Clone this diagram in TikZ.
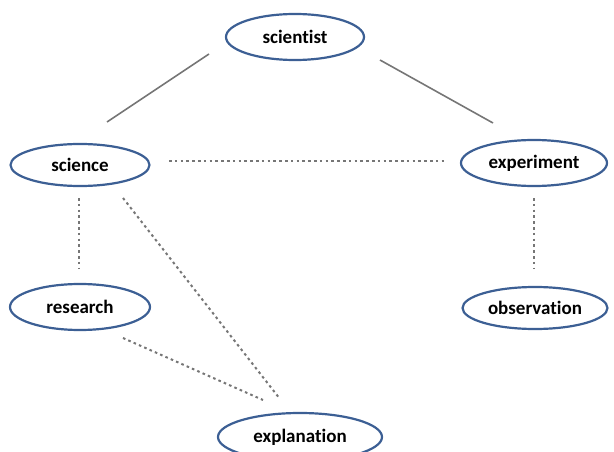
\documentclass[tikz,border=0pt]{standalone}
\usepackage{fontspec}
\setmainfont{Carlito}[Ligatures=NoCommon]
\usetikzlibrary{shapes.geometric}
\definecolor{ringblue}{HTML}{3C5F94}
\definecolor{linkgray}{HTML}{767676}
\tikzset{
  term/.style={ellipse, draw=ringblue, line width=2.2pt, fill=white,
    inner sep=0pt, font=\bfseries\fontsize{19}{21}\selectfont},
  strong/.style={draw=linkgray, line width=1.6pt},
  weak/.style={draw=linkgray, line width=2pt, dash pattern=on 2.6pt off 3.2pt}
}
\begin{document}
\begin{tikzpicture}[x=1pt,y=-1pt]
  \useasboundingbox (0,0) rectangle (614,452);
  % concept nodes
  \node[term, minimum width=138pt, minimum height=46pt] (scientist)   at (295,37)  {scientist};
  \node[term, minimum width=139pt, minimum height=42pt] (science)     at (80,165)  {science};
  \node[term, minimum width=146pt, minimum height=46pt] (experiment)  at (534,163) {experiment};
  \node[term, minimum width=140pt, minimum height=46pt] (research)    at (80,307)  {research};
  \node[term, minimum width=145pt, minimum height=42pt] (observation) at (535,308) {observation};
  \node[term, minimum width=164pt, minimum height=48pt] (explanation) at (300,437) {explanation};
  % solid links from the top concept
  \draw[strong] ([shift={(-86,17)}]scientist.center) -- ([shift={(27,-43)}]science.center);
  \draw[strong] ([shift={(85,23)}]scientist.center) -- ([shift={(-41,-40)}]experiment.center);
  % dashed links
  \draw[weak] ([shift={(89,-4)}]science.center) -- ([shift={(-87,-2)}]experiment.center);
  \draw[weak] ([shift={(-1,33)}]science.center) -- ([shift={(-1,-39)}]research.center);
  \draw[weak] ([shift={(43,33)}]science.center) -- ([shift={(-20,-38)}]explanation.center);
  \draw[weak] ([shift={(43,31)}]research.center) -- ([shift={(-37,-37)}]explanation.center);
  \draw[weak] ([shift={(0,35)}]experiment.center) -- ([shift={(-1,-40)}]observation.center);
\end{tikzpicture}
\end{document}
